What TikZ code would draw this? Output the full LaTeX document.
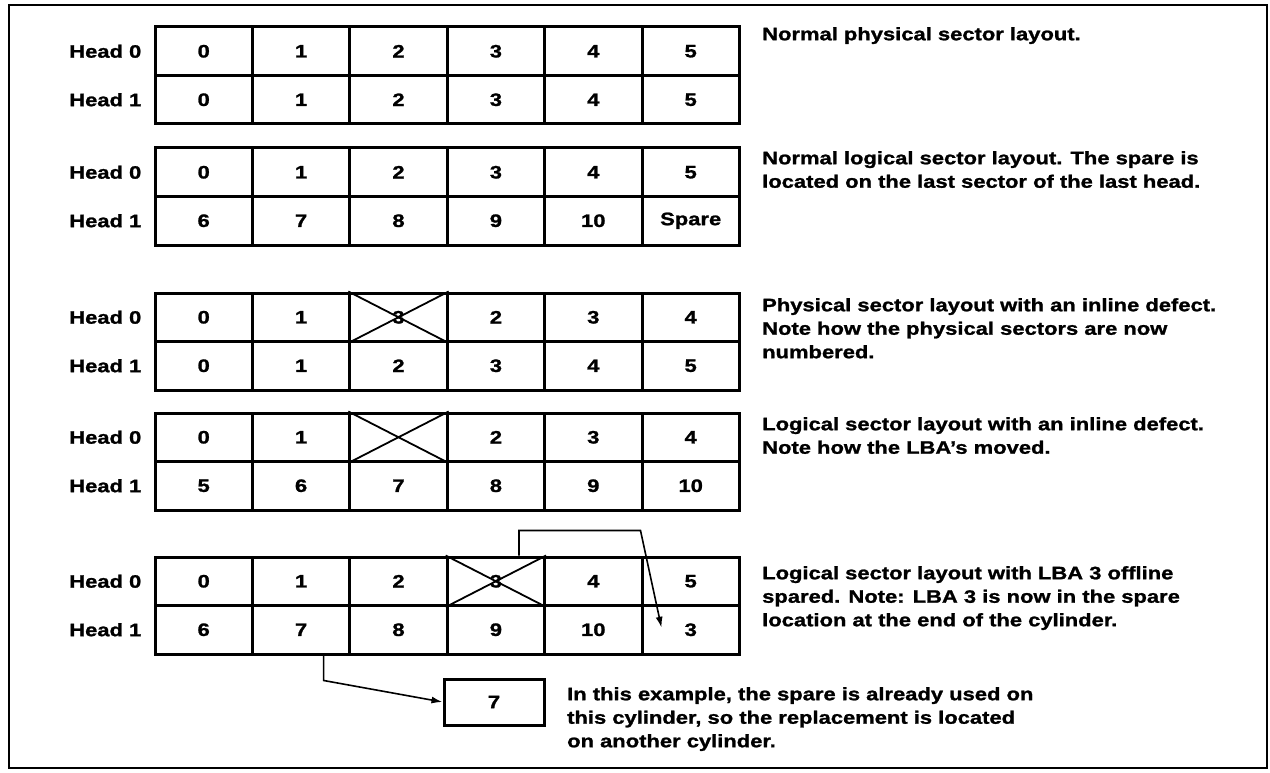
\documentclass[tikz,border=0pt]{standalone}
\usepackage{fontspec}
\setmainfont{Liberation Sans}[FakeStretch=1.22,BoldFeatures={FakeBold=1.3}]
\usetikzlibrary{arrows.meta,calc}

% one two-head sector table: name, top edge, head 0 cells, head 1 cells
\newcommand\sectortable[4]{%
  \foreach \v [count=\i from 0] in {#3}
    \node[cell] (#1-0-\i) at ({203.7+97.4*\i},{#2+24.25}) {\v};
  \foreach \v [count=\i from 0] in {#4}
    \node[cell] (#1-1-\i) at ({203.7+97.4*\i},{#2+72.75}) {\v};
  \node[head] (#1-h0) at ($(#1-0-0.west)+(-12,0)$) {Head 0};
  \node[head] (#1-h1) at ($(#1-1-0.west)+(-12,0)$) {Head 1};
}

\begin{document}
\begin{tikzpicture}[x=1pt,y=-1pt,
  txt/.style={font=\bfseries\fontsize{18}{23.5}\selectfont},
  cell/.style={txt,draw,line width=3pt,minimum width=97.4pt,minimum height=48.5pt,inner sep=0pt},
  head/.style={txt,anchor=east,inner sep=0pt},
  note/.style={txt,anchor=north west,align=left,inner sep=0pt},
  cross/.style={line width=1.8pt},
  conn/.style={line width=1.6pt,-{Latex[length=11pt,width=7pt]}},
  frame/.style={line width=2.8pt}]
\useasboundingbox (0,0) rectangle (1270,773);
\fill[white] (0,0) rectangle (1270,773);
\draw[frame] (9,5) rectangle (1267,768);

% the five layouts
\sectortable{t1}{27}{0,1,2,3,4,5}{0,1,2,3,4,5}
\sectortable{t2}{148}{0,1,2,3,4,5}{6,7,8,9,10,Spare}
\sectortable{t3}{293}{0,1,3,2,3,4}{0,1,2,3,4,5}
\sectortable{t4}{413}{0,1,,2,3,4}{5,6,7,8,9,10}
\sectortable{t5}{557}{0,1,2,3,4,5}{6,7,8,9,10,3}

% defective sectors
\foreach \c in {t3-0-2,t4-0-2,t5-0-3}
  \draw[cross] (\c.north west) -- (\c.south east) (\c.south west) -- (\c.north east);

% descriptions
\node[note] (n1) at (762,27) {Normal physical sector layout.};
\node[note] (n2) at (762,151) {Normal logical sector layout. The spare is\\located on the last sector of the last head.};
\node[note] (n3) at (762,298) {Physical sector layout with an inline defect.\\Note how the physical sectors are now\\numbered.};
\node[note] (n4) at (762,417) {Logical sector layout with an inline defect.\\Note how the LBA’s moved.};
\node[note] (n5) at (762,566) {Logical sector layout with LBA 3 offline\\spared. Note: LBA 3 is now in the spare\\location at the end of the cylinder.};

% LBA 3 moved to the spare sector
\coordinate (lift) at ($(t5-0-3.north west)!0.73!(t5-0-3.north east)$);
\coordinate (knee) at ($(t5-0-5.north west)+(0,-25)$);
\coordinate (spare-in) at ($(t5-1-5.west)+(21,-2)$);
\draw[conn] (lift) |- (knee) -- (spare-in);

% LBA 7 moved to another cylinder
\node[cell,minimum width=100pt,minimum height=46pt] (far7) at (494,702) {7};
\coordinate (drop) at ($(t5-1-1.south west)!0.725!(t5-1-1.south east)$);
\coordinate (drop-knee) at ($(drop)+(0,25)$);
\draw[conn] (drop) -- (drop-knee) -- (far7.west);
\node[note] (n6) at (567,687) {In this example, the spare is already used on\\this cylinder, so the replacement is located\\on another cylinder.};
\end{tikzpicture}
\end{document}
